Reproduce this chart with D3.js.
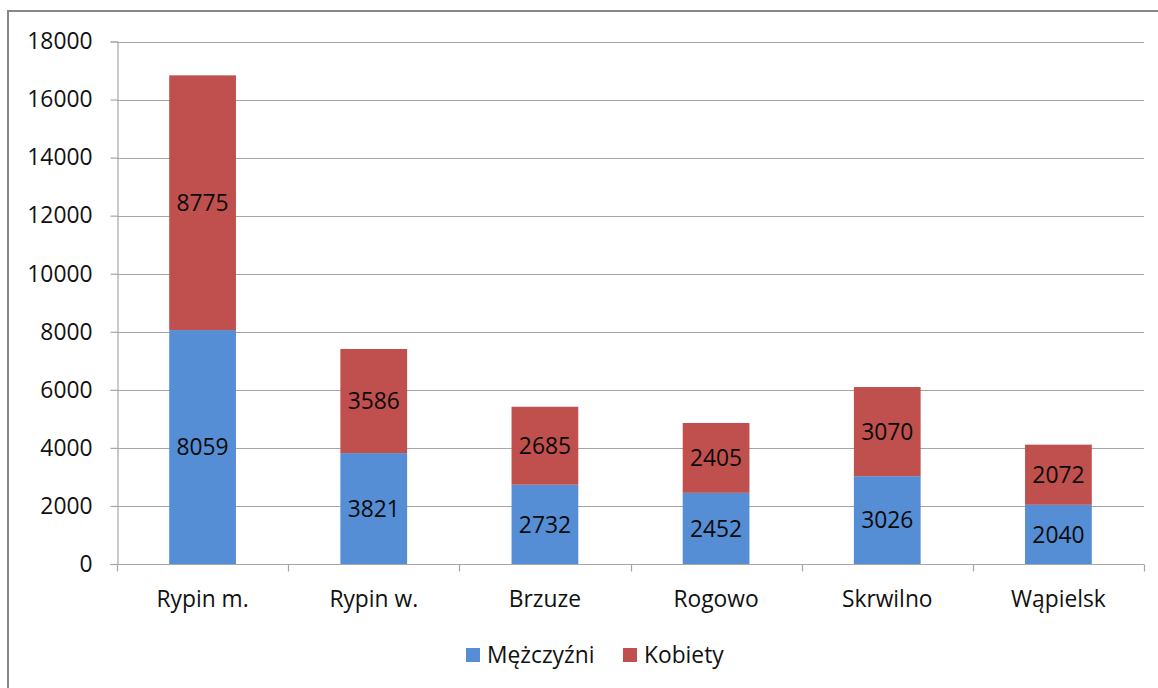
<!DOCTYPE html>
<html>
<head>
<meta charset="utf-8">
<script src="https://cdn.jsdelivr.net/npm/d3@7"></script>
<style>
  html, body { margin: 0; padding: 0; background: #fff; }
  svg { display: block; }
</style>
</head>
<body>
<script>
// values
const categories = ["Rypin m.", "Rypin w.", "Brzuze", "Rogowo", "Skrwilno", "Wąpielsk"];
const men = [8059, 3821, 2732, 2452, 3026, 2040];
const women = [8775, 3586, 2685, 2405, 3070, 2072];
const seriesNames = ["Mężczyźni", "Kobiety"];
const seriesColors = ["#558ED5", "#C0504D"];
const yTicks = [0, 2000, 4000, 6000, 8000, 10000, 12000, 14000, 16000, 18000];

const width = 1158, height = 688;
const plot = {left: 117, right: 1144, top: 41.5, bottom: 564};
const font = "'Open Sans', 'Noto Sans', sans-serif";
const fs = 22.8;

const rows = categories.map((c, i) => ({cat: c, [seriesNames[0]]: men[i], [seriesNames[1]]: women[i]}));
const stack = d3.stack().keys(seriesNames)(rows);

const x = d3.scaleBand().domain(categories).range([plot.left, plot.right]).paddingInner(0.61).paddingOuter(0.305);
const xb = d3.scaleBand().domain(categories).range([plot.left, plot.right]);
const y = d3.scaleLinear().domain([0, 18000]).range([plot.bottom, plot.top]);

const svg = d3.select("body").append("svg")
  .attr("width", width)
  .attr("height", height)
  .attr("font-family", font);

// chart frame
svg.append("rect")
  .attr("x", 8).attr("y", 11)
  .attr("width", width + 20).attr("height", height + 20)
  .attr("fill", "none")
  .attr("stroke", "#878787")
  .attr("stroke-width", 2);

// gridlines
svg.append("g")
  .selectAll("line")
  .data(yTicks.filter(d => d > 0))
  .join("line")
  .attr("x1", plot.left).attr("x2", plot.right)
  .attr("y1", d => Math.round(y(d)) + 0.5).attr("y2", d => Math.round(y(d)) + 0.5)
  .attr("stroke", "#A6A6A6")
  .attr("stroke-width", 1.2);

// y axis
const yAxis = svg.append("g")
  .attr("transform", `translate(${plot.left + 0.5},0)`)
  .call(d3.axisLeft(y).tickValues(yTicks).tickSize(7).tickPadding(18).tickFormat(d3.format("d")));
yAxis.select(".domain").attr("stroke", "#A6A6A6").attr("stroke-width", 1.2);
yAxis.selectAll(".tick line").attr("stroke", "#A6A6A6").attr("stroke-width", 1.2);
yAxis.selectAll(".tick text")
  .attr("font-family", font)
  .attr("font-size", fs)
  .attr("fill", "#111");

// bars
svg.append("g")
  .selectAll("g")
  .data(stack)
  .join("g")
  .attr("fill", (d, i) => seriesColors[i])
  .selectAll("rect")
  .data(d => d)
  .join("rect")
  .attr("x", d => x(d.data.cat))
  .attr("width", x.bandwidth())
  .attr("y", d => y(d[1]))
  .attr("height", d => y(d[0]) - y(d[1]));

// x axis (drawn over bar bottoms)
const xAxisG = svg.append("g")
  .attr("transform", `translate(0,${Math.round(plot.bottom) + 0.5})`);
xAxisG.append("line")
  .attr("x1", plot.left).attr("x2", plot.right)
  .attr("stroke", "#A6A6A6").attr("stroke-width", 1.2);
xAxisG.selectAll("line.tick")
  .data(categories.concat(["end"]))
  .join("line")
  .attr("class", "tick")
  .attr("x1", (d, i) => Math.round(i < categories.length ? xb(d) : plot.right) + 0.5)
  .attr("x2", (d, i) => Math.round(i < categories.length ? xb(d) : plot.right) + 0.5)
  .attr("y1", 0).attr("y2", 7)
  .attr("stroke", "#A6A6A6").attr("stroke-width", 1.2);
xAxisG.selectAll("text")
  .data(categories)
  .join("text")
  .attr("x", d => xb(d) + xb.bandwidth() / 2)
  .attr("y", 42)
  .attr("text-anchor", "middle")
  .attr("font-size", fs)
  .attr("fill", "#111")
  .text(d => d);

// data labels
svg.append("g")
  .selectAll("g")
  .data(stack)
  .join("g")
  .selectAll("text")
  .data(d => d)
  .join("text")
  .attr("x", d => x(d.data.cat) + x.bandwidth() / 2)
  .attr("y", d => (y(d[0]) + y(d[1])) / 2)
  .attr("dy", "0.36em")
  .attr("text-anchor", "middle")
  .attr("font-size", fs)
  .attr("fill", "#0a0a0a")
  .text(d => d[1] - d[0]);

// legend
const legend = svg.append("g").attr("font-size", fs);
const legendX = [466, 623];
const li = legend.selectAll("g")
  .data(seriesNames)
  .join("g")
  .attr("transform", (d, i) => `translate(${legendX[i]},648)`);
li.append("rect")
  .attr("width", 14).attr("height", 14)
  .attr("fill", (d, i) => seriesColors[i]);
li.append("text")
  .attr("x", 21).attr("y", 15)
  .attr("fill", "#111")
  .text(d => d);
</script>
</body>
</html>
